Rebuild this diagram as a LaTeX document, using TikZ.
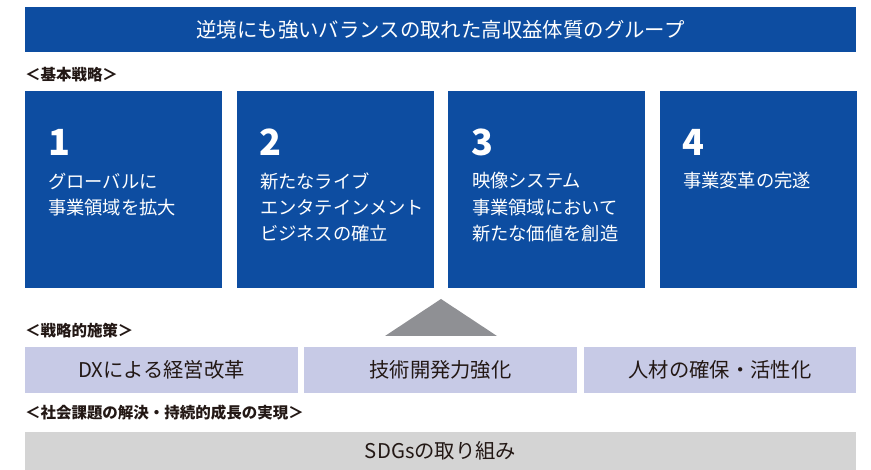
\documentclass[tikz,border=0pt]{standalone}
\usepackage{fontspec}
\setmainfont{Noto Sans CJK JP}
\definecolor{mainblue}{HTML}{0D4DA1}
\definecolor{lav}{HTML}{C7CAE6}
\definecolor{trigray}{HTML}{8F9094}
\definecolor{barGray}{HTML}{D4D4D4}
\definecolor{ink}{HTML}{231815}
\begin{document}
\begin{tikzpicture}[x=1pt,y=-1pt,
  every node/.style={inner sep=0pt,outer sep=0pt},
  bluebox/.style={fill=mainblue,anchor=north west,minimum width=197pt,minimum height=197pt},
  topbar/.style={fill=mainblue,anchor=north west,minimum width=831pt,minimum height=45pt,text=white,font=\fontsize{20.4}{24}\selectfont},
  lavbox/.style={fill=lav,anchor=north west,minimum height=46pt,text=ink,font=\fontsize{20.3}{24}\selectfont},
  graybar/.style={fill=barGray,anchor=north west,minimum width=831pt,minimum height=38pt,text=ink,font=\fontsize{20.3}{24}\selectfont},
  seclabel/.style={anchor=west,text=ink,font=\bfseries\fontsize{15.5}{18}\selectfont},
  numtxt/.style={anchor=west,text=white,font=\bfseries\fontsize{36}{40}\selectfont},
  linetxt/.style={anchor=west,text=white,font=\fontsize{18.3}{22}\selectfont}]
\useasboundingbox (0,0) rectangle (871,470);

\node[topbar] (top) at (25,7) {逆境にも強いバランスの取れた高収益体質のグループ};

\node[seclabel] (lab1) at (25,75) {＜基本戦略＞};

\node[bluebox] (b1) at (25,91) {};
\node[bluebox] (b2) at (237,91) {};
\node[bluebox] (b3) at (448,91) {};
\node[bluebox] (b4) at (660,91) {};

\node[numtxt] (n1) at (48,142) {1};
\node[linetxt] (b1a) at (48,181) {グローバルに};
\node[linetxt] (b1b) at (48,207.5) {事業領域を拡大};

\node[numtxt] (n2) at (259,142) {2};
\node[linetxt] (b2a) at (260,181) {新たなライブ};
\node[linetxt] (b2b) at (260,207.5) {エンタテインメント};
\node[linetxt] (b2c) at (260,234) {ビジネスの確立};

\node[numtxt] (n3) at (471,142) {3};
\node[linetxt] (b3a) at (472,181) {映像システム};
\node[linetxt] (b3b) at (472,207.5) {事業領域において};
\node[linetxt] (b3c) at (472,234) {新たな価値を創造};

\node[numtxt] (n4) at (682,142) {4};
\node[linetxt] (b4a) at (683,181) {事業変革の完遂};

\fill[trigray] (385,336) -- (441,299) -- (497,336) -- cycle;

\node[seclabel] (lab2) at (25,331) {＜戦略的施策＞};

\node[lavbox,minimum width=273pt] (s1) at (25,347) {DXによる経営改革};
\node[lavbox,minimum width=273pt] (s2) at (304,347) {技術開発力強化};
\node[lavbox,minimum width=272pt] (s3) at (584,347) {人材の確保・活性化};

\node[seclabel] (lab3) at (25,413) {＜社会課題の解決・持続的成長の実現＞};

\node[graybar] (sdg) at (25,432) {SDGsの取り組み};
\end{tikzpicture}
\end{document}
